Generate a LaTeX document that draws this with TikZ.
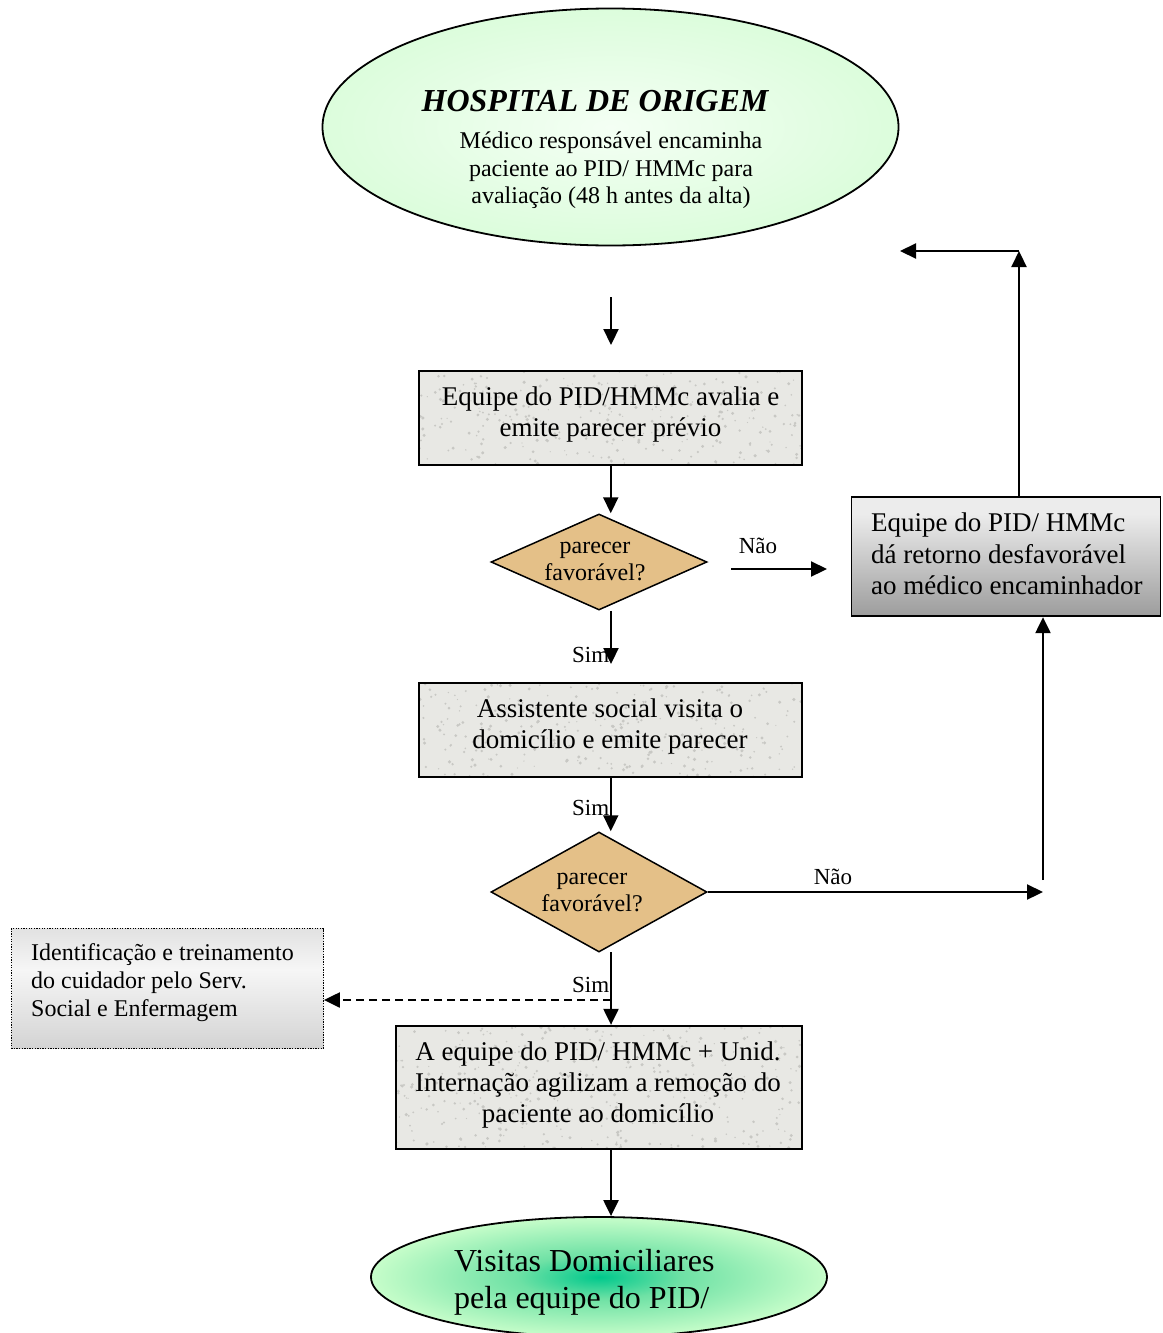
\documentclass[tikz,border=0pt]{standalone}
\usepackage{fontspec}
\setmainfont{Liberation Serif}
\usetikzlibrary{shapes.geometric,arrows.meta}
\definecolor{lgreen}{RGB}{196,250,196}
\definecolor{cwhite}{RGB}{244,255,244}
\definecolor{teal1}{RGB}{0,200,140}
\definecolor{teal2}{RGB}{110,225,165}
\definecolor{lgreen2}{RGB}{204,255,204}
\definecolor{granite}{RGB}{232,232,228}
\definecolor{speck}{RGB}{200,200,196}
\definecolor{tan1}{RGB}{228,192,136}
\definecolor{dbot}{RGB}{110,110,110}
\definecolor{dmid}{RGB}{236,236,236}
\definecolor{dtop}{RGB}{140,140,140}
\definecolor{lbot}{RGB}{185,185,185}
\definecolor{lmid}{RGB}{246,246,246}
\definecolor{ltop}{RGB}{196,196,196}
\pgfdeclareradialshading{topglow}{\pgfpoint{0bp}{0bp}}{color(0bp)=(cwhite); color(50bp)=(lgreen); color(80bp)=(lgreen)}
\pgfdeclareradialshading{botglow}{\pgfpoint{0bp}{0bp}}{color(0bp)=(teal1); color(9bp)=(teal2); color(26bp)=(lgreen2); color(80bp)=(lgreen2)}
\pgfdeclareverticalshading{darkbox}{100bp}{color(0bp)=(dbot); color(68bp)=(dmid); color(88bp)=(dmid); color(100bp)=(dtop)}
\pgfdeclareverticalshading{lightbox}{100bp}{color(0bp)=(lbot); color(58bp)=(lmid); color(100bp)=(ltop)}
\tikzset{
  arr/.style={line width=2.2pt, -{Triangle[length=16pt,width=15pt]}},
  gbox/.style={rectangle, draw, line width=1.8pt, fill=granite, inner sep=0pt,
    path picture={\foreach \k in {1,...,450}{\fill[speck] ([xshift={rnd*420pt}, yshift={rnd*130pt}]path picture bounding box.south west) circle ({0.6pt+rnd*1.2pt});}}},
  dmd/.style={diamond, draw, line width=1.5pt, fill=tan1, inner sep=0pt, aspect=2.25},
  txtbig/.style={inner sep=0pt, align=center, font=\fontsize{27}{31}\selectfont},
  txtmid/.style={inner sep=0pt, align=center, font=\fontsize{24}{27.5}\selectfont},
  lbl/.style={inner sep=0pt, font=\fontsize{23}{27}\selectfont},
}
\begin{document}
\begin{tikzpicture}[x=1pt,y=-1pt]
\pgfmathsetseed{7}
\useasboundingbox (0,0) rectangle (1162,1333);
\clip (0,0) rectangle (1162,1333);
\fill[white] (0,0) rectangle (1162,1333);

% top ellipse
\node[ellipse, draw, line width=1.8pt, shade, shading=topglow, minimum width=576pt, minimum height=237pt, inner sep=0pt] (hosp) at (610.5,127) {};
\node[anchor=base, inner sep=0pt, font=\fontsize{32}{37}\selectfont\bfseries\itshape] (hospt) at (595,111.5) {HOSPITAL DE ORIGEM};
\node[txtmid, anchor=north] (hospb) at (611,132) {Médico responsável encaminha\\paciente ao PID/ HMMc para\\avaliação (48 h antes da alta)};

\coordinate (a0s) at (611,297);
\coordinate (a0e) at (611,345);
\draw[arr] (a0s) -- (a0e);

% box 1
\node[gbox, minimum width=383pt, minimum height=94pt] (b1) at (610.75,418.25) {};
\node[txtbig, anchor=north] (b1t) at (610.5,386.6) {Equipe do PID/HMMc avalia e\\emite parecer prévio};

% diamond 1
\node[dmd, minimum width=216pt, minimum height=96pt] (d1) at (599,562) {};
\node[inner sep=0pt, align=center, font=\fontsize{24}{27}\selectfont, anchor=north] (d1t) at (595,541.7) {parecer\\favorável?};
\draw[arr] (b1.south) -- (b1.south |- d1.north);

% Nao 1
\coordinate (n1s) at (731,569);
\coordinate (n1e) at (827,569);
\draw[arr] (n1s) -- (n1e);
\node[lbl, anchor=base] (n1l) at (758,553) {Não};

% Sim 1
\coordinate (s1e) at (611,664);
\draw[arr] (s1e |- d1.south) -- (s1e);
\node[lbl, anchor=base west] (s1l) at (572,662) {Sim};

% box 2
\node[gbox, minimum width=383pt, minimum height=94pt] (b2) at (610.75,730.25) {};
\node[txtbig, anchor=north] (b2t) at (610,698.6) {Assistente social visita o\\domicílio e emite parecer};

% diamond 2
\node[dmd, minimum width=216pt, minimum height=120pt, aspect=1.8] (d2) at (599,892) {};
\node[inner sep=0pt, align=center, font=\fontsize{24}{27}\selectfont, anchor=north] (d2t) at (592,872.7) {parecer\\favorável?};
\draw[arr] (b2.south) -- (b2.south |- d2.north);
\node[lbl, anchor=base west] (s2l) at (572,815) {Sim};

% box 3
\node[rectangle, draw, line width=1.8pt, shade, shading=darkbox, minimum width=309pt, minimum height=119pt, inner sep=0pt] (b3) at (1006,556.75) {};
\node[inner sep=0pt, align=left, font=\fontsize{27}{31.5}\selectfont, anchor=north west] (b3t) at (871,512.6) {Equipe do PID/ HMMc\\dá retorno desfavorável\\ao médico encaminhador};

% Nao 2
\coordinate (n2e) at (1043,892);
\draw[arr] (d2.east) -- (n2e);
\node[lbl, anchor=base] (n2l) at (833,884) {Não};
\coordinate (u1s) at (1043,880);
\draw[arr] (u1s) -- (u1s |- b3.south);

% return to origin
\coordinate (r1) at (1019,251);
\coordinate (r2) at (900,251);
\draw[arr] (b3.north -| r1) -- (r1);
\draw[arr] (r1) -- (r2);

% box 4
\node[rectangle, draw, line width=1.3pt, dash pattern=on 1.3pt off 1.3pt, shade, shading=lightbox, minimum width=312pt, minimum height=120pt, inner sep=0pt] (b4) at (167.25,988.5) {};
\node[inner sep=0pt, align=left, font=\fontsize{24}{28}\selectfont, anchor=north west] (b4t) at (31,943.6) {Identificação e treinamento\\do cuidador pelo Serv.\\Social e Enfermagem};

% box 5
\node[gbox, minimum width=406pt, minimum height=123pt] (b5) at (599.25,1087.25) {};
\node[txtbig, anchor=north] (b5t) at (598,1041.6) {A equipe do PID/ HMMc + Unid.\\Internação agilizam a remoção do\\paciente ao domicílio};

% Sim 3
\coordinate (s3s) at (611,952);
\draw[arr] (s3s) -- (s3s |- b5.north);
\node[lbl, anchor=base west] (s3l) at (572,992) {Sim};
\coordinate (dsh) at (611,1000);
\draw[arr, dash pattern=on 8pt off 5pt] (dsh) -- (dsh -| b4.east);

% bottom ellipse
\node[ellipse, draw, line width=1.8pt, shade, shading=botglow, minimum width=456pt, minimum height=120pt, inner sep=0pt] (vis) at (599,1277) {};
\node[inner sep=0pt, align=left, font=\fontsize{32}{37}\selectfont, anchor=north west] (vist) at (454,1249) {Visitas Domiciliares\\pela equipe do PID/};
\draw[arr] (s3s |- b5.south) -- (s3s |- vis.north);
\end{tikzpicture}
\end{document}
